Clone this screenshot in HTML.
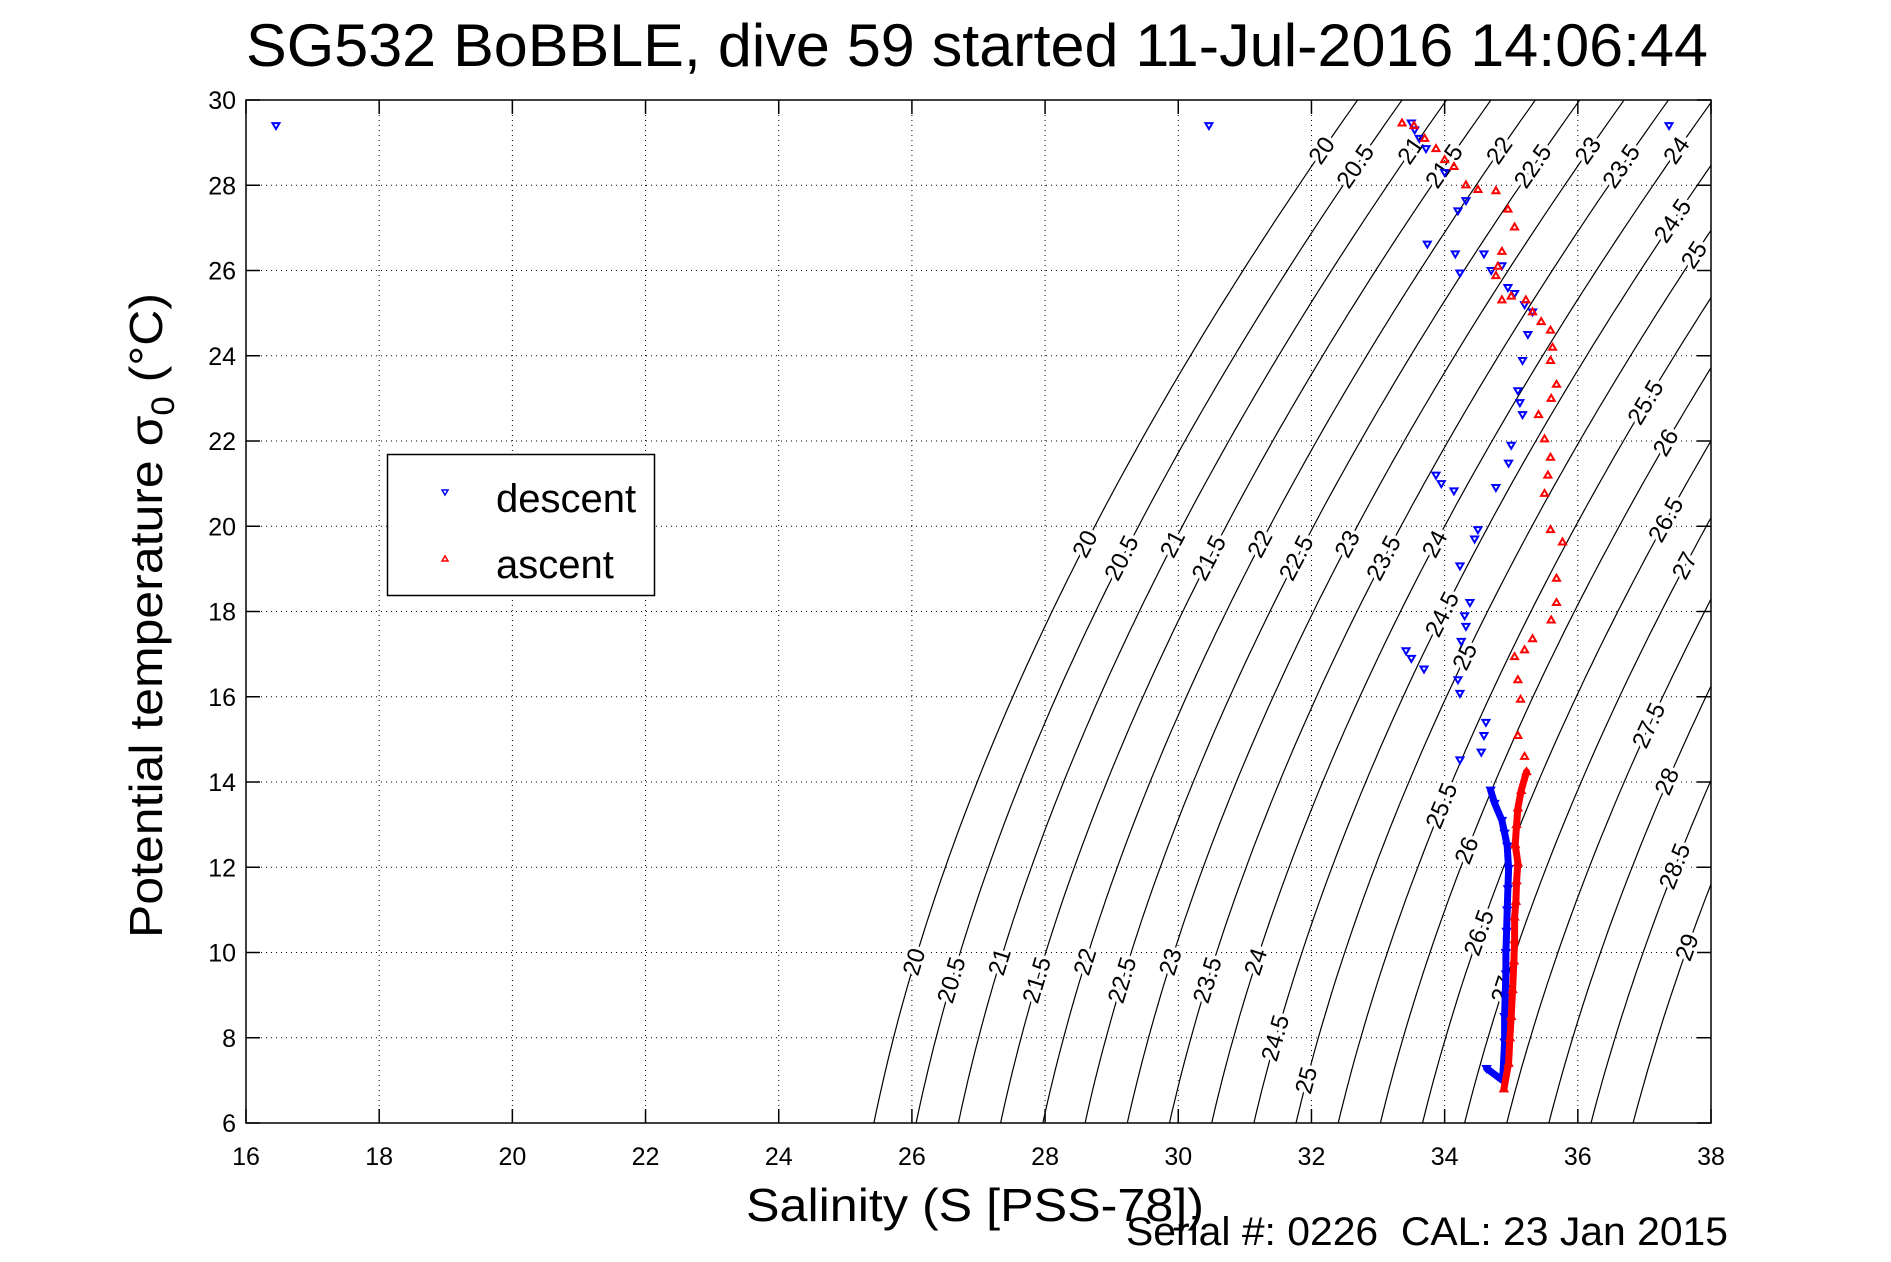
<!DOCTYPE html>
<html><head><meta charset="utf-8"><style>
html,body{margin:0;padding:0;background:#fff;}
svg{display:block;font-family:"Liberation Sans",sans-serif;}
</style></head><body>
<svg id="chart" width="1891" height="1262" viewBox="0 0 1891 1262" xmlns="http://www.w3.org/2000/svg">
<defs><clipPath id="plotclip"><rect x="246" y="100" width="1465" height="1023"/></clipPath></defs>
<rect width="1891" height="1262" fill="#fff"/>
<text x="246" y="66" font-size="60" textLength="1462" lengthAdjust="spacingAndGlyphs">SG532 BoBBLE, dive 59 started 11-Jul-2016 14:06:44</text>
<g id="grid"></g>
<g id="contours" clip-path="url(#plotclip)"></g>
<g id="clabels"></g>
<g id="series" clip-path="url(#plotclip)"></g>
<g id="axes"></g>
<text x="746" y="1221" font-size="46" textLength="458" lengthAdjust="spacingAndGlyphs">Salinity (S [PSS-78])</text>
<text transform="translate(162,938) rotate(-90)" font-size="46" textLength="645" lengthAdjust="spacingAndGlyphs">Potential temperature σ<tspan font-size="32" dy="12">0</tspan><tspan dy="-12"> (°C)</tspan></text>
<text x="1126" y="1245" font-size="40" textLength="602" lengthAdjust="spacingAndGlyphs">Serial #: 0226&#160;&#160;CAL: 23 Jan 2015</text>
<g>
<rect x="387.5" y="454.5" width="267" height="141" fill="#fff" stroke="#000" stroke-width="1.5"/>
<path d="M442,490 L448,490 L445,495 Z" fill="none" stroke="#00f" stroke-width="1.5"/>
<text x="496" y="512" font-size="40">descent</text>
<path d="M442,561 L448,561 L445,556 Z" fill="none" stroke="#f00" stroke-width="1.5"/>
<text x="496" y="578" font-size="40">ascent</text>
</g>
</svg>
<script>
const xTicks=[16,18,20,22,24,26,28,30,32,34,36,38];
const yTicks=[6,8,10,12,14,16,18,20,22,24,26,28,30];
const sigmaLevels=[20,20.5,21,21.5,22,22.5,23,23.5,24,24.5,25,25.5,26,26.5,27,27.5,28,28.5,29];
const labelSigma=[20,20.5,21,21.5,22,22.5,23,23.5,24,24.5,25,25.5,26,26.5,27,27.5,28,28.5,29,
 20,20.5,21,21.5,22,22.5,23,23.5,24,24.5,25,25.5,26,26.5,27,
 20,20.5,21,21.5,22,22.5,23,23.5,24,24.5,25];
const labelTemp=[28.81,28.44,28.81,28.44,28.81,28.44,28.81,28.44,28.81,27.16,26.36,22.9,21.96,20.15,19.07,15.32,14.01,12.02,10.12,
 19.58,19.25,19.58,19.25,19.58,19.25,19.58,19.25,19.58,17.93,16.94,13.44,12.39,10.46,9.13,
 9.78,9.35,9.78,9.35,9.78,9.35,9.78,9.35,9.78,7.99,7.0];
const descentS=[16.45,30.46,37.37,33.5,33.55,33.62,33.72,34.0,34.32,34.2,33.74,34.16,34.23,34.59,34.7,34.86,34.95,35.05,35.2,35.32,35.25,35.17,35.1,35.13,35.17,35.0,34.96,34.77,33.87,33.95,34.14,34.5,34.45,34.23,34.38,34.3,34.32,34.25,33.42,33.5,33.69,34.23,34.2,34.59,34.62,34.23,34.55,34.69,34.75,34.86,34.9,34.94,34.96,34.95,34.94,34.93,34.92,34.92,34.91,34.9,34.9,34.87,34.63];
const descentT=[29.4,29.4,29.4,29.46,29.3,29.1,28.86,28.3,27.64,27.4,26.62,26.39,25.94,26.39,26.0,26.11,25.6,25.46,25.2,25.03,24.5,23.89,23.18,22.9,22.62,21.9,21.48,20.91,21.2,21.0,20.83,19.92,19.7,19.07,18.21,17.9,17.65,17.3,17.08,16.9,16.65,16.08,16.4,15.09,15.4,14.52,14.7,13.81,13.5,13.1,12.8,12.5,11.97,11.5,11.0,10.5,10.0,9.5,9.0,8.5,7.9,7.0,7.28];
const ascentS=[33.36,33.54,33.7,33.87,34.0,34.14,34.32,34.5,34.77,34.95,35.05,34.86,34.8,34.77,34.86,35.0,35.22,35.32,35.45,35.59,35.62,35.59,35.68,35.6,35.41,35.5,35.59,35.55,35.5,35.59,35.77,35.68,35.68,35.6,35.32,35.2,35.05,35.1,35.14,35.1,35.2,35.23,35.15,35.1,35.08,35.06,35.1,35.08,35.07,35.05,35.05,35.04,35.02,35.0,34.98,34.96,34.89];
const ascentT=[29.46,29.4,29.1,28.86,28.6,28.44,28.01,27.9,27.87,27.44,27.02,26.45,26.1,25.88,25.31,25.4,25.31,25.03,24.8,24.6,24.2,23.89,23.33,23.0,22.62,22.05,21.62,21.2,20.77,19.92,19.63,18.78,18.21,17.8,17.36,17.1,16.94,16.4,15.94,15.09,14.6,14.24,13.8,13.39,13.0,12.53,12.1,11.68,11.2,10.83,10.3,9.8,9.13,8.5,8.0,7.4,6.8];

const NS="http://www.w3.org/2000/svg";
const X0=246,X1=1711,Y0=100,Y1=1123;
const xs=s=>X0+(s-16)/(38-16)*(X1-X0);
const ys=t=>Y1-(t-6)/(30-6)*(Y1-Y0);
function mk(tag,attrs,parent){const e=document.createElementNS(NS,tag);for(const k in attrs)e.setAttribute(k,attrs[k]);parent.appendChild(e);return e;}
function sigma0(S,T){
 const rw=999.842594+6.793952e-2*T-9.095290e-3*T*T+1.001685e-4*T**3-1.120083e-6*T**4+6.536332e-9*T**5;
 const r=rw+S*(0.824493-4.0899e-3*T+7.6438e-5*T*T-8.2467e-7*T**3+5.3875e-9*T**4)+Math.pow(S,1.5)*(-5.72466e-3+1.0227e-4*T-1.6546e-6*T*T)+4.8314e-4*S*S;
 return r-1000;}
function salAt(sig,T){let lo=0,hi=50;for(let i=0;i<50;i++){const m=(lo+hi)/2;if(sigma0(m,T)<sig)lo=m;else hi=m;}return (lo+hi)/2;}

const grid=document.getElementById('grid'),axes=document.getElementById('axes');
xTicks.forEach(v=>{const x=xs(v);
 if(v>16&&v<38){const g=mk('line',{x1:x,x2:x,y1:Y0,y2:Y1,stroke:'#000','stroke-width':1,'stroke-dasharray':'1,4'},grid);
 
 }
 const t1=mk('line',{x1:x,x2:x,y1:Y1,y2:Y1-14,stroke:'#000','stroke-width':1.5},axes);
 
 
 const t2=mk('line',{x1:x,x2:x,y1:Y0,y2:Y0+14,stroke:'#000','stroke-width':1.5},axes);
 
 
 const l=mk('text',{x:x,y:1165,'font-size':25,'text-anchor':'middle'},axes);l.textContent=v;
 
 
});
yTicks.forEach(v=>{const y=ys(v);
 if(v>6&&v<30){const g=mk('line',{x1:X0,x2:X1,y1:y,y2:y,stroke:'#000','stroke-width':1,'stroke-dasharray':'1,4'},grid);
 
 }
 const t1=mk('line',{x1:X0,x2:X0+14,y1:y,y2:y,stroke:'#000','stroke-width':1.5},axes);
 
 
 const t2=mk('line',{x1:X1,x2:X1-14,y1:y,y2:y,stroke:'#000','stroke-width':1.5},axes);
 
 
 const l=mk('text',{x:236,y:y+9,'font-size':25,'text-anchor':'end'},axes);l.textContent=v;
 
 
});
const frame=mk('rect',{x:X0,y:Y0,width:X1-X0,height:Y1-Y0,fill:'none',stroke:'#000','stroke-width':1.5},axes);



const cg=document.getElementById('contours');
sigmaLevels.forEach(sig=>{let d='';for(let T=5.5;T<=30.5;T+=0.25){const S=salAt(sig,T);d+=(d?'L':'M')+xs(S).toFixed(1)+','+ys(T).toFixed(1);}
 const p=mk('path',{d:d,fill:'none',stroke:'#000','stroke-width':1.2},cg);
 
 
});
const lg=document.getElementById('clabels');
labelSigma.forEach((sig,i)=>{const T=labelTemp[i];const S=salAt(sig,T);
 const S2=salAt(sig,T+0.5);const dx=xs(S2)-xs(S),dy=ys(T+0.5)-ys(T);
 const ang=Math.atan2(dy,dx)*180/Math.PI;const x=xs(S),y=ys(T);
 if(x<X0||x>X1)return;
 const t=mk('text',{x:0,y:0,transform:`translate(${x.toFixed(1)},${y.toFixed(1)}) rotate(${ang.toFixed(1)})`,'font-size':24,'text-anchor':'middle','dominant-baseline':'central',stroke:'#fff','stroke-width':7,'paint-order':'stroke',fill:'#000'},lg);
 t.textContent=sig;
 
 
});

const sg=document.getElementById('series');
function series(S,T,color,down,name,cut){
 const g=mk('g',{},sg);
 
 
 let d='';
 for(let i=1;i<S.length;i++){if(T[i]<cut&&T[i-1]<cut&&Math.abs(S[i]-S[i-1])<1)d+=`M${xs(S[i-1]).toFixed(1)},${ys(T[i-1]).toFixed(1)}L${xs(S[i]).toFixed(1)},${ys(T[i]).toFixed(1)}`;}
 const ln=mk('path',{d:d,stroke:color,'stroke-width':7,fill:'none','stroke-linecap':'round'},g);
 
 
 S.forEach((s,i)=>{const x=xs(s),y=ys(T[i]);
  const dd=down?`M${x-3.5},${y-2.5}L${x+3.5},${y-2.5}L${x},${y+3.5}Z`:`M${x-3.5},${y+2.5}L${x+3.5},${y+2.5}L${x},${y-3.5}Z`;
  const m=mk('path',{d:dd,fill:'none',stroke:color,'stroke-width':2},g);
  
  
 });
}
series(descentS,descentT,'#00f',true,'descent',13.9);
series(ascentS,ascentT,'#f00',false,'ascent',14.3);
</script>
</body></html>
